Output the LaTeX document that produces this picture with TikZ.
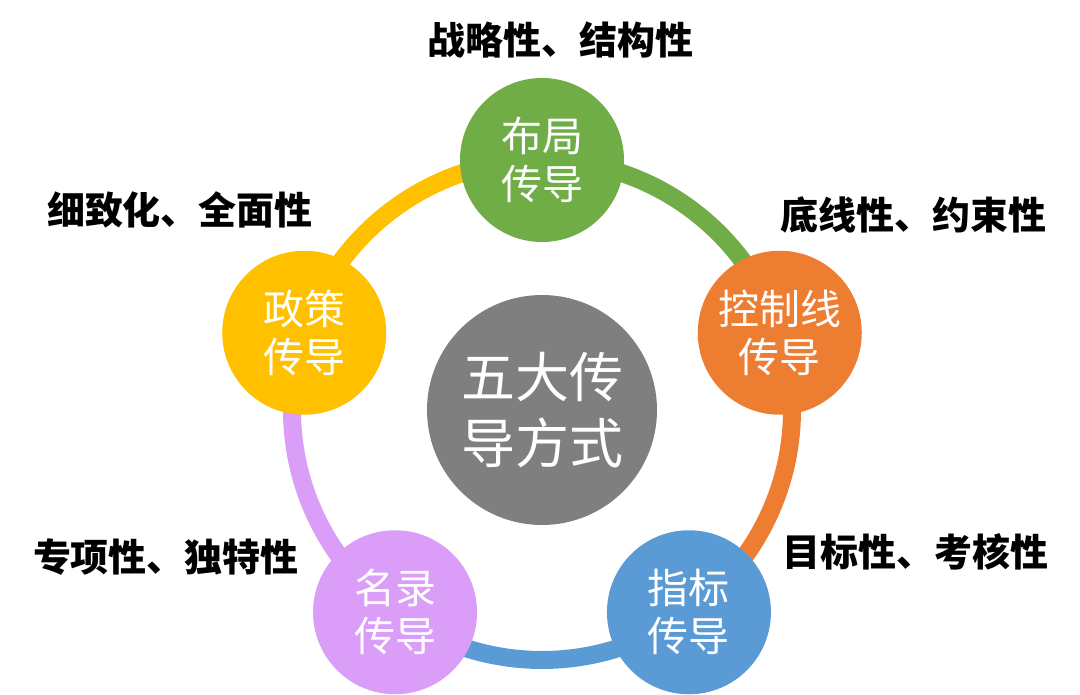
\documentclass[tikz,border=0pt]{standalone}
\usepackage{fontspec}
\newfontfamily\cjk{Noto Sans CJK SC}
\definecolor{cg}{HTML}{70AD47}
\definecolor{co}{HTML}{ED7D31}
\definecolor{cb}{HTML}{5B9BD5}
\definecolor{cp}{HTML}{DA9EF8}
\definecolor{cy}{HTML}{FFC000}
\definecolor{cgr}{HTML}{7F7F7F}
\begin{document}
\begin{tikzpicture}[x=1pt,y=1pt,
  ball/.style={circle,minimum size=164pt,inner sep=0pt,text=white,align=center,font=\cjk\fontsize{41}{48}\selectfont},
  lab/.style={font=\cjk\bfseries\fontsize{38}{42}\selectfont,text=black},
  ring/.style={line width=18pt}]
\useasboundingbox (0,-695) rectangle (1080,0);
\coordinate (c) at (542,-410);
\foreach \a/\col in {90/cg,18/co,-54/cb,-126/cp,162/cy}{
  \draw[ring,\col] ([shift={(\a:250)}]c) arc[start angle=\a,end angle=\a-72,radius=250];
}
\node[circle,minimum size=230pt,fill=cgr,text=white,align=center,font=\cjk\fontsize{54}{66}\selectfont] (mid) at (c) {五大传\\导方式};
\node[ball,fill=cg] (top) at ([shift={(90:250)}]c) {布局\\传导};
\node[ball,fill=co] (right) at ([shift={(18:250)}]c) {控制线\\传导};
\node[ball,fill=cb] (br) at ([shift={(-54:250)}]c) {指标\\传导};
\node[ball,fill=cp] (bl) at ([shift={(-126:250)}]c) {名录\\传导};
\node[ball,fill=cy] (left) at ([shift={(162:250)}]c) {政策\\传导};
\node[lab] (l1) at (560,-40) {战略性、结构性};
\node[lab] (l2) at (913,-215) {底线性、约束性};
\node[lab] (l3) at (915,-552) {目标性、考核性};
\node[lab] (l4) at (166,-557) {专项性、独特性};
\node[lab] (l5) at (180,-210) {细致化、全面性};
\end{tikzpicture}
\end{document}
